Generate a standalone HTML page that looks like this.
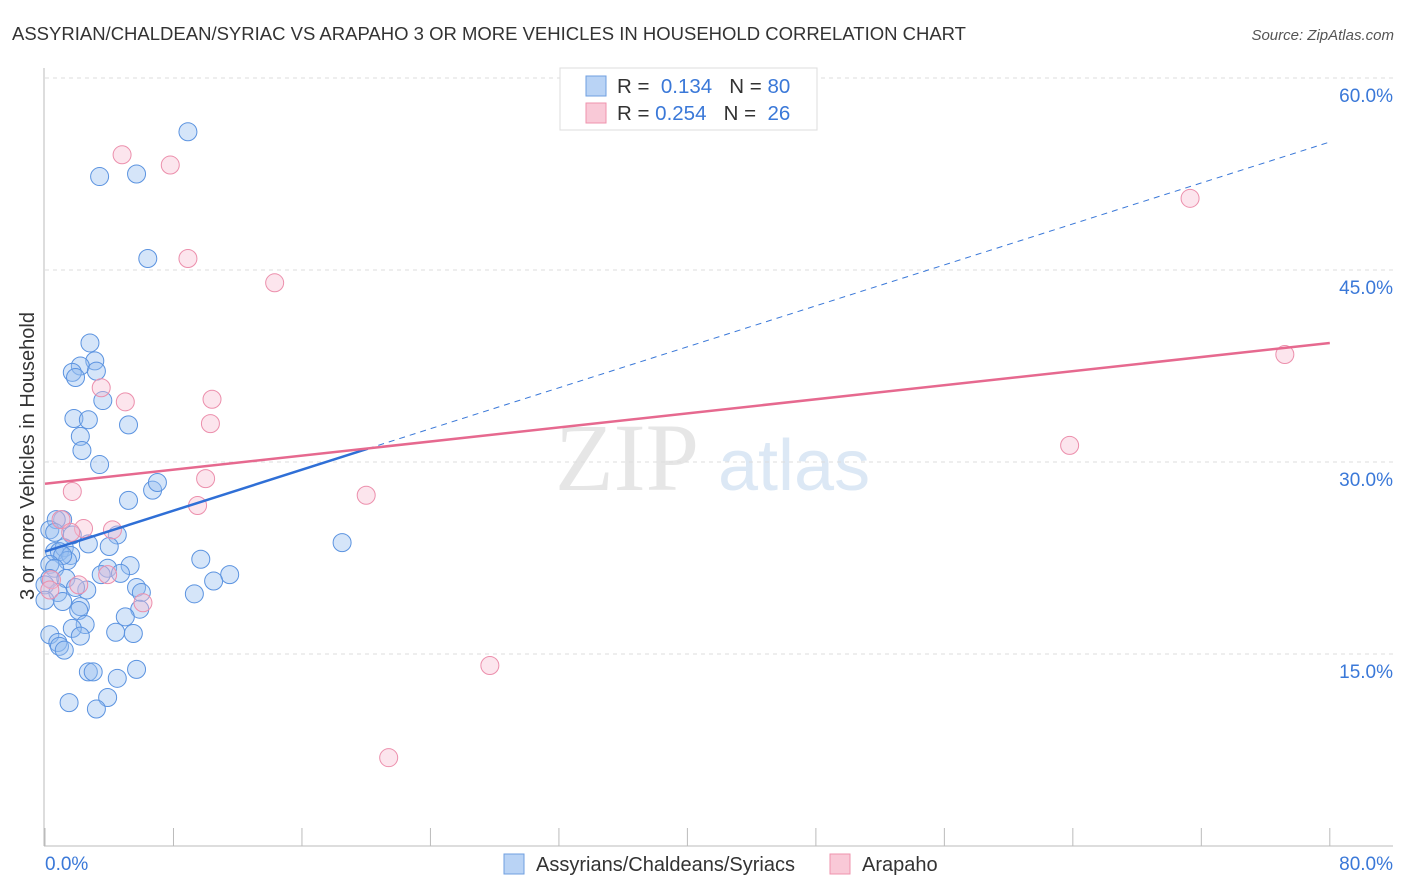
<!DOCTYPE html>
<html><head><meta charset="utf-8"><style>
body{margin:0;background:#fff;font-family:"Liberation Sans",sans-serif}
svg{display:block}
</style></head><body>
<svg width="1406" height="892" id="chart">
<text x="12" y="40" font-size="18.5" fill="#333">ASSYRIAN/CHALDEAN/SYRIAC VS ARAPAHO 3 OR MORE VEHICLES IN HOUSEHOLD CORRELATION CHART</text>
<text x="1394" y="40" font-size="15" fill="#555" font-style="italic" text-anchor="end">Source: ZipAtlas.com</text>
<text x="555" y="490" font-size="96" fill="#e6e6e6" font-family="Liberation Serif">ZIP</text>
<text x="718" y="490" font-size="72" fill="#dce8f5">atlas</text>
<g id="grid"></g><g id="marks"></g>
<text transform="translate(34,456) rotate(-90)" font-size="20" fill="#333" text-anchor="middle">3 or more Vehicles in Household</text>
<g>
<rect x="560" y="68" width="257" height="62" fill="#fff" stroke="#ddd"/>
<rect x="586" y="76" width="20" height="20" fill="#b9d3f5" stroke="#6f9fe0"/>
<rect x="586" y="103" width="20" height="20" fill="#f9c9d7" stroke="#ef93ae"/>
<text x="617" y="93" font-size="20.5" fill="#333">R = <tspan fill="#3a78d8">&#160;0.134</tspan>&#160;&#160;&#160;N = <tspan fill="#3a78d8">80</tspan></text>
<text x="617" y="120" font-size="20.5" fill="#333">R = <tspan fill="#3a78d8">0.254</tspan>&#160;&#160;&#160;N = <tspan fill="#3a78d8">&#160;26</tspan></text>
</g>
<g>
<rect x="504" y="854" width="20" height="20" fill="#b9d3f5" stroke="#6f9fe0"/>
<text x="536" y="871" font-size="20" fill="#333">Assyrians/Chaldeans/Syriacs</text>
<rect x="830" y="854" width="20" height="20" fill="#f9c9d7" stroke="#ef93ae"/>
<text x="862" y="871" font-size="20" fill="#333">Arapaho</text>
</g>
</svg>
<script>
const yTicks=[15,30,45,60];
const yTickLabels=["15.0%","30.0%","45.0%","60.0%"];
const xTicks=[0,8,16,24,32,40,48,56,64,72,80];
const xTickLabels=["0.0%","80.0%"];
const blueX=[8.9,3.4,5.7,6.4,2.8,3.1,2.2,3.2,1.7,1.9,3.6,1.8,2.7,5.2,2.2,2.3,3.4,6.7,7.0,5.2,1.1,0.7,0.3,0.6,1.7,4.5,2.7,4.0,0.6,1.2,0.9,1.6,1.4,1.1,5.3,9.7,0.3,0.6,3.9,4.7,3.5,11.5,10.5,0.3,1.3,0.0,2.6,5.7,6.0,1.9,0.8,9.3,0.0,1.1,2.2,2.1,5.9,5.0,2.5,1.7,4.4,5.5,2.2,0.3,0.8,0.9,1.2,2.7,3.0,5.7,4.5,1.5,3.9,3.2,18.5];
const blueY=[55.8,52.3,52.5,45.9,39.3,37.9,37.5,37.1,37.0,36.6,34.8,33.4,33.3,32.9,32.0,30.9,29.8,27.8,28.4,27.0,25.5,25.5,24.7,24.5,24.3,24.3,23.6,23.4,23.0,23.3,23.0,22.7,22.3,22.7,21.9,22.4,22.0,21.7,21.7,21.3,21.2,21.2,20.7,20.9,20.9,20.4,20.0,20.2,19.8,20.2,19.8,19.7,19.2,19.1,18.7,18.4,18.5,17.9,17.3,17.0,16.7,16.6,16.4,16.5,15.9,15.6,15.3,13.6,13.6,13.8,13.1,11.2,11.6,10.7,23.7];
const pinkX=[4.8,7.8,8.9,14.3,71.3,77.2,3.5,5.0,10.4,10.3,63.8,10.0,1.7,20.0,9.5,1.0,2.4,4.2,1.6,0.4,2.1,3.9,6.1,27.7,21.4,0.3];
const pinkY=[54.0,53.2,45.9,44.0,50.6,38.4,35.8,34.7,34.9,33.0,31.3,28.7,27.7,27.4,26.6,25.5,24.8,24.7,24.5,20.8,20.4,21.2,19.0,14.1,6.9,20.0];
const blueTrend=[23.0,0.4,20.1];
const pinkTrend=[28.3,0.1375];
const X=v=>45+v*16.06, Y=v=>846-v*12.8;
const NS="http://www.w3.org/2000/svg";
function mk(p,t,a){const e=document.createElementNS(NS,t);for(const k in a)e.setAttribute(k,a[k]);p.appendChild(e);return e;}
const g=document.getElementById('grid'), m=document.getElementById('marks');
yTicks.forEach((t,i)=>{
 const l=mk(g,'line',{x1:45,x2:1393,y1:Y(t),y2:Y(t),stroke:'#ddd','stroke-dasharray':'4,4'});
 
 
 const tx=mk(g,'text',{x:1393,y:Y(t)+24,'font-size':19,fill:'#3a78d8','text-anchor':'end'});
 tx.textContent=yTickLabels[i];
 
 
});
mk(g,'line',{x1:44,x2:44,y1:68,y2:846,stroke:'#bbb'});
mk(g,'line',{x1:44,x2:1393,y1:846,y2:846,stroke:'#bbb'});
xTicks.forEach(t=>{const l=mk(g,'line',{x1:X(t),x2:X(t),y1:828,y2:846,stroke:'#bbb'});
 
 });
[[0,'start',45],[80,'end',1393]].forEach((d,i)=>{const tx=mk(g,'text',{x:d[2],y:870,'font-size':19,fill:'#3a78d8','text-anchor':d[1]});
 tx.textContent=xTickLabels[i];
 
 });
blueX.forEach((x,i)=>{const c=mk(m,'circle',{cx:X(x),cy:Y(blueY[i]),r:9,fill:'rgba(150,190,240,0.4)',stroke:'#5b93e0','stroke-width':1});
 
 });
pinkX.forEach((x,i)=>{const c=mk(m,'circle',{cx:X(x),cy:Y(pinkY[i]),r:9,fill:'rgba(248,190,210,0.4)',stroke:'#ec8fac','stroke-width':1});
 
 });
const bf=x=>blueTrend[0]+blueTrend[1]*x, pf=x=>pinkTrend[0]+pinkTrend[1]*x;
let l=mk(m,'line',{x1:X(blueTrend[2]),y1:Y(bf(blueTrend[2])),x2:X(80),y2:Y(bf(80)),stroke:'#3a78d8','stroke-width':1,'stroke-dasharray':'6,5'});


l=mk(m,'line',{x1:X(0),y1:Y(bf(0)),x2:X(blueTrend[2]),y2:Y(bf(blueTrend[2])),stroke:'#2f6fd6','stroke-width':2.5});


l=mk(m,'line',{x1:X(0),y1:Y(pf(0)),x2:X(80),y2:Y(pf(80)),stroke:'#e6698f','stroke-width':2.5});


</script>
</body></html>
